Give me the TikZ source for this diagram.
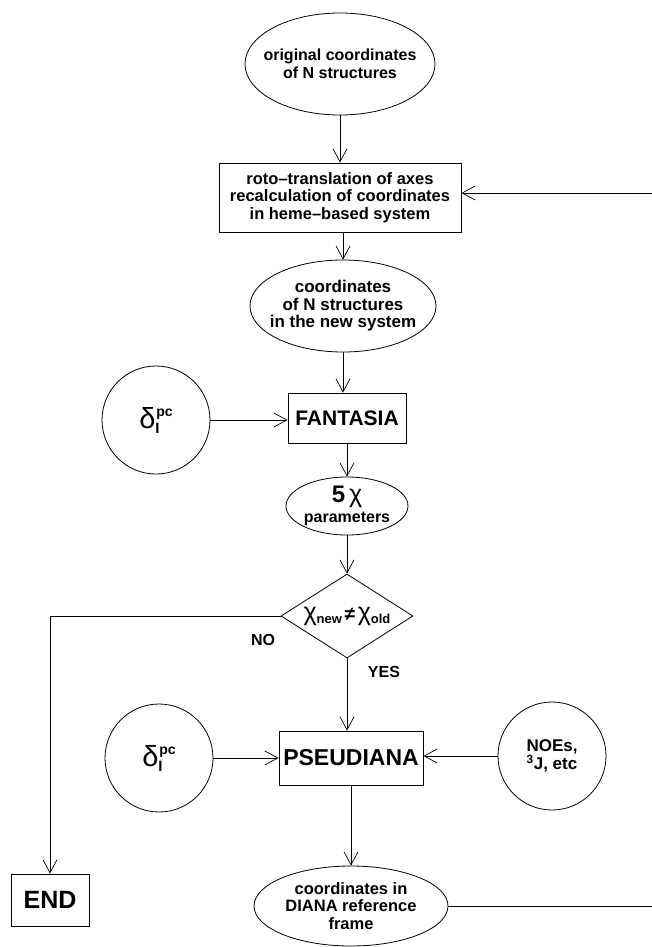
\documentclass[tikz,border=0pt]{standalone}
\usepackage{fontspec}
\setmainfont{Liberation Sans}
\usetikzlibrary{shapes,arrows.meta,positioning,calc}

\newcommand{\pcshift}{{\mdseries\fontsize{29}{29}\selectfont δ}\rlap{\raisebox{-5pt}{\fontsize{15}{15}\selectfont I}}\kern1pt\raisebox{12pt}{\fontsize{14}{14}\selectfont pc}}
\newcommand{\chisym}{{\mdseries\fontsize{25}{25}\selectfont χ}}
\newcommand{\chisub}[1]{\raisebox{-3pt}{\fontsize{13}{13}\selectfont #1}}

\tikzset{
  every node/.append style={font=\bfseries\fontsize{16}{17.5}\selectfont, align=center, inner sep=0pt},
  flowbox/.style={draw, line width=0.9pt, rectangle},
  oval/.style={draw, line width=0.8pt, ellipse, inner xsep=-20pt, inner ysep=-3pt},
  disc/.style={draw, line width=0.8pt, circle, minimum size=108pt},
  decision/.style={draw, line width=0.8pt, diamond, aspect=1.57, inner xsep=-6pt, inner ysep=-3pt, minimum width=132pt, minimum height=84pt},
  tag/.style={font=\bfseries\fontsize{16}{16}\selectfont},
  link/.style={line width=0.7pt, -{Straight Barb[length=13pt,width=14pt]}}
}

\begin{document}
\begin{tikzpicture}[x=1pt,y=-1pt]
    \useasboundingbox (0,0) rectangle (651,947);

    % main column
    \node[oval, minimum width=190pt, minimum height=102pt] (orig) at (340,64) {original coordinates\\of N structures};
    \node[flowbox, minimum width=242pt, minimum height=69pt, font=\bfseries\fontsize{16.5}{17.5}\selectfont] (roto) at (340,197.5) {roto--translation of axes\\recalculation of coordinates\\in heme--based system};
    \node[oval, minimum width=186pt, minimum height=92pt, font=\bfseries\fontsize{17}{17.5}\selectfont] (newsys) at (343,306) {coordinates\\of N structures\\in the new system};
    \node[flowbox, minimum width=118pt, minimum height=50pt, font=\bfseries\fontsize{21}{21}\selectfont] (fant) at (347,418) {FANTASIA};
    \node[oval, minimum width=122pt, minimum height=58pt, inner ysep=-6pt] (params) at (347,506) {{\fontsize{24}{24}\selectfont 5\,\chisym}\\[3pt]{\fontsize{16}{16}\selectfont parameters}};
    \node[decision] (test) at (347,616) {\chisym\chisub{new}\,{\fontsize{19}{19}\selectfont ≠}\,\chisym\chisub{old}};
    \node[flowbox, minimum width=144pt, minimum height=54pt, font=\bfseries\fontsize{23}{23}\selectfont] (pseud) at (351,758) {PSEUDIANA};
    \node[oval, minimum width=194pt, minimum height=80pt, font=\bfseries\fontsize{16.5}{17.5}\selectfont] (diana) at (351,906) {coordinates in\\DIANA reference\\frame};

    % side inputs
    \node[disc] (shiftA) at (156,420) {\pcshift};
    \node[disc] (shiftB) at (159,758) {\pcshift};
    \node[disc, font=\bfseries\fontsize{17}{17}\selectfont] (restr) at (552,756) {NOEs,\\\textsuperscript{3}J, etc};
    \node[flowbox, minimum width=78pt, minimum height=52pt, font=\bfseries\fontsize{25}{25}\selectfont] (finish) at (50,900) {END};

    % branch labels
    \node[tag] (nolbl) at (263,640) {NO};
    \node[tag] (yeslbl) at (384,672) {YES};

    % connectors
    \draw[link] (orig) -- (roto);
    \draw[link] (roto.south -| newsys.north) -- (newsys.north);
    \draw[link] (newsys.south) -- (newsys.south |- fant.north);
    \draw[link] (shiftA.east) -- (shiftA.east -| fant.west);
    \draw[link] (fant) -- (params);
    \draw[link] (params) -- (test);
    \draw[link] (test.west) -| (finish.north);
    \draw[link] (test.south) -- (test.south |- pseud.north);
    \draw[link] (shiftB.east) -- (shiftB.east -| pseud.west);
    \draw[link] (restr.west) -- (restr.west -| pseud.east);
    \draw[link] (pseud.south -| diana.north) -- (diana.north);
    % feedback loop
    \coordinate (ret) at (656,193);
    \draw[link] (diana.east) -| (ret) -- (ret -| roto.east);
\end{tikzpicture}
\end{document}
